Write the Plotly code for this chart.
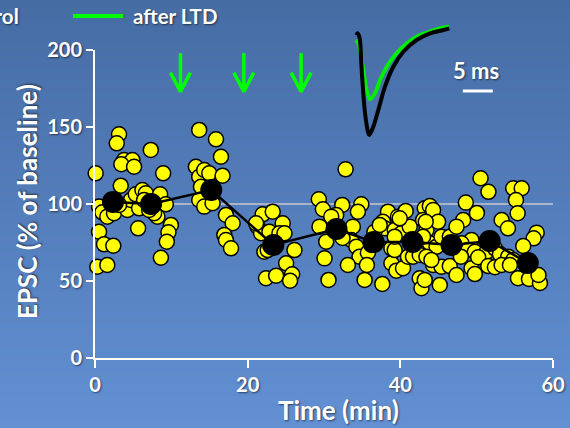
import plotly.graph_objects as go

# ---------------- data ----------------
# individual experiments (time in min, EPSC % of baseline)
time_pts = [3.15, 2.85, 13.65, 7.31, 3.81, 4.90, 3.45, 5.12, 0.09, 8.93, 3.37, 0.53, 0.96, 1.61, 2.49,
            4.24, 4.69, 5.34, 6.21, 6.66, 5.78, 8.53, 9.28, 8.18, 7.75, 5.65, 9.94, 9.62, 9.41, 0.53,
            1.18, 2.40, 8.63, 0.30, 1.61, 13.22, 13.65, 15.85, 16.50, 14.31, 14.97, 16.71, 13.88, 13.65, 14.31,
            15.40, 17.16, 18.03, 16.94, 17.16, 17.82, 6.43, 7.09, 2.10, 3.15,
            21.97, 23.28, 24.59, 21.31, 21.76, 22.85, 24.16, 24.82, 22.19, 22.62, 26.13, 25.04, 22.41, 23.73,
            25.83, 25.56, 21.10, 22.98,
            32.83, 29.32, 29.85, 32.39, 34.89, 34.44, 31.60, 30.95, 29.41, 30.29, 30.07, 33.78, 33.57, 34.23,
            34.66, 35.75, 33.13, 35.62, 30.59, 35.32, 37.64, 38.38, 39.69, 40.70, 37.72, 37.95, 39.26, 40.14,
            41.23, 38.83, 39.48, 40.35, 38.83, 39.26, 41.00, 41.66, 42.54, 42.54, 42.77, 43.20, 42.98, 43.42,
            32.43, 36.60, 36.20, 37.30,
            50.51, 51.54, 54.79, 55.90, 55.15, 55.37, 48.58, 50.03, 39.92, 43.86, 44.29, 44.95, 39.26, 43.86,
            44.74, 42.98, 45.39, 46.48, 48.23, 47.36, 49.33, 48.02, 48.89, 49.76, 51.30, 52.39, 53.05, 54.14,
            54.79, 53.27, 54.10, 57.86, 57.47, 56.10, 44.29, 45.39, 46.48, 47.36, 49.33, 49.76, 47.93, 50.20,
            51.51, 52.39, 53.27, 54.36, 45.17, 55.41, 56.85, 58.29, 58.10, 43.42, 44.07, 43.33, 43.20]
epsc_pts = [145.3, 139.4, 148.1, 135.1, 128.6, 128.6, 125.8, 124.2, 119.9, 119.9, 111.9, 98.3, 94.6, 91.8, 94.0,
            96.1, 102.6, 106.3, 109.1, 107.0, 97.2, 106.3, 99.8, 91.8, 94.0, 84.2, 86.4, 81.6, 75.5, 82.0,
            73.8, 72.9, 65.1, 59.3, 60.4, 124.2, 117.7, 142.0, 130.7, 122.1, 119.9, 118.4, 111.2, 102.6, 98.3,
            100.5, 92.9, 87.5, 79.9, 76.6, 71.2, 102.6, 96.1, 102.6, 99.4,
            93.3, 95.0, 87.5, 85.3, 81.0, 82.0, 81.0, 81.0, 69.0, 70.1, 70.1, 61.5, 51.8, 53.4,
            54.4, 50.2, 87.5, 72.7,
            122.5, 103.1, 96.6, 99.4, 99.8, 95.0, 92.9, 91.8, 85.3, 75.5, 64.7, 85.3, 76.6, 72.3,
            65.8, 68.4, 60.4, 60.4, 50.7, 50.7, 48.1, 95.0, 91.8, 95.5, 88.5, 84.2, 83.1, 81.0,
            85.3, 61.5, 56.7, 58.3, 71.2, 70.1, 65.8, 65.8, 66.9, 51.8, 45.3, 97.2, 89.6, 83.1,
            77.9, 81.8, 73.4, 86.4,
            116.7, 107.9, 110.2, 110.2, 102.6, 94.0, 100.9, 94.2, 90.7, 98.7, 96.1, 88.5, 78.8, 74.5,
            72.3, 78.8, 78.8, 78.8, 89.6, 85.3, 76.6, 74.5, 70.1, 69.0, 69.0, 71.2, 67.5, 65.8,
            63.6, 89.6, 84.2, 81.4, 77.7, 72.7, 60.4, 59.3, 59.7, 53.9, 58.3, 54.5, 65.8, 65.4,
            59.7, 58.9, 60.4, 60.4, 47.4, 51.8, 51.3, 48.7, 53.9, 65.8, 63.6, 88.5, 50.7]

# 5-min averages
mean_time = [2.36, 7.35, 15.23, 23.37, 31.64, 36.5, 41.6, 46.7, 51.7, 56.7]
mean_epsc = [101.3, 100.0, 109.1, 73.4, 83.8, 75.3, 75.3, 73.4, 76.0, 61.7]

# LTD induction times (min)
arrow_times = [11.2, 19.5, 27.0]
arrow_top, arrow_tip = 198, 173

# example EPSC traces (time ms, amplitude a.u.)
trace_ms_ctrl = [0.12, 0.22, 0.55, 0.95, 1.5, 2.05, 2.22, 2.88, 3.72, 4.83, 6.22, 7.88, 10.1, 12.33, 14.55, 15.55]
trace_amp_ctrl = [-7, -5.3, -8.7, -42, -85, -105, -107, -98.7, -82, -58.7, -38.7, -23.7, -12, -5.3, -2, -0.3]
trace_ms_ltd = [0.0, 0.38, 1.22, 1.78, 2.33, 3.17, 4.0, 5.12, 6.5, 8.17, 10.1, 12.33, 14.0, 15.55]
trace_amp_ltd = [-12, -15.3, -42, -62, -71.3, -65.3, -52, -38.7, -27, -17, -8.7, -3.7, -0.3, 1.3]
scale_bar_ms = 5
scale_bar_start = 17.8
scale_bar_amp = -63

x_ticks = [0, 20, 40, 60]
y_ticks = [0, 50, 100, 150, 200]

# ---------------- figure ----------------
FONT = "Lato"
SHADOW = "1px 1px 2px rgba(0,0,0,0.55)"
W, H = 570, 428
ML, MR, MT, MB = 95, 17, 20, 70
PW, PH = W - ML - MR, H - MT - MB


def px_to_paper_x(px):
    return (px - ML) / PW


def py_to_paper_y(py):
    return (H - MB - py) / PH


fig = go.Figure()

# background gradient
top_c = (70, 108, 164)
bot_c = (98, 144, 211)
n_bands = 107
shapes = []
for i in range(n_bands):
    f = i / (n_bands - 1)
    c = tuple(round(top_c[k] + (bot_c[k] - top_c[k]) * f) for k in range(3))
    y0p = i * H / n_bands
    y1p = (i + 1) * H / n_bands + 1
    shapes.append(dict(type="rect", xref="paper", yref="paper",
                       x0=px_to_paper_x(-2), x1=px_to_paper_x(W + 2),
                       y0=py_to_paper_y(y1p), y1=py_to_paper_y(y0p),
                       fillcolor="rgb(%d,%d,%d)" % c, line=dict(width=0), layer="below"))

# baseline line
shapes.append(dict(type="line", xref="x", yref="y", x0=0, x1=60, y0=100, y1=100,
                   line=dict(color="rgba(185,190,200,0.85)", width=2), layer="below"))

# scale bar in inset
shapes.append(dict(type="line", xref="x2", yref="y2", x0=scale_bar_start, x1=scale_bar_start + scale_bar_ms,
                   y0=scale_bar_amp, y1=scale_bar_amp, line=dict(color="white", width=3)))

# legend line
shapes.append(dict(type="line", xref="paper", yref="paper", x0=px_to_paper_x(73), x1=px_to_paper_x(123),
                   y0=py_to_paper_y(16), y1=py_to_paper_y(16), line=dict(color="#00ff00", width=4)))

# yellow individual points
fig.add_trace(go.Scatter(x=time_pts, y=epsc_pts, mode="markers", cliponaxis=False,
                         marker=dict(size=15, color="#ffff00", line=dict(color="black", width=1.5)),
                         showlegend=False, hoverinfo="skip"))

# averages
fig.add_trace(go.Scatter(x=mean_time, y=mean_epsc, mode="lines+markers", cliponaxis=False,
                         line=dict(color="black", width=2.5),
                         marker=dict(size=22, color="black"), showlegend=False))

# arrows
dx, dy = 1.31, 12.3
ax, ay = [], []
for t in arrow_times:
    ax += [t, t, None, t - dx, t, t + dx, None]
    ay += [arrow_top, arrow_tip, None, arrow_tip + dy, arrow_tip, arrow_tip + dy, None]
fig.add_trace(go.Scatter(x=ax, y=ay, mode="lines", cliponaxis=False,
                         line=dict(color="#00ff00", width=3.5), showlegend=False, hoverinfo="skip"))

# inset traces
fig.add_trace(go.Scatter(x=trace_ms_ltd, y=trace_amp_ltd, xaxis="x2", yaxis="y2", mode="lines",
                         line=dict(color="#00ee00", width=4, shape="spline"), showlegend=False))
fig.add_trace(go.Scatter(x=trace_ms_ctrl, y=trace_amp_ctrl, xaxis="x2", yaxis="y2", mode="lines",
                         line=dict(color="black", width=4, shape="spline"), showlegend=False))

axis_font = dict(family=FONT, size=20, color="white", weight="bold", shadow=SHADOW)
title_font = dict(family=FONT, size=26, color="white", weight="bold", shadow=SHADOW)

annotations = [
    dict(text="EPSC (% of baseline)", xref="paper", yref="paper", x=px_to_paper_x(27), y=py_to_paper_y(202),
         textangle=-90, showarrow=False, xanchor="center", yanchor="middle", font=title_font),
    dict(text="Time (min)", xref="paper", yref="paper", x=px_to_paper_x(338), y=py_to_paper_y(410),
         showarrow=False, xanchor="center", yanchor="middle", font=title_font),
    dict(text="after LTD", xref="paper", yref="paper", x=px_to_paper_x(131), y=py_to_paper_y(16),
         showarrow=False, xanchor="left", yanchor="middle",
         font=dict(family=FONT, size=20.5, color="white", weight="bold", shadow=SHADOW)),
    dict(text="control", xref="paper", yref="paper", x=px_to_paper_x(21), y=py_to_paper_y(16),
         showarrow=False, xanchor="right", yanchor="middle",
         font=dict(family=FONT, size=20.5, color="white", weight="bold", shadow=SHADOW)),
    dict(text="5 ms", xref="x2", yref="y2", x=scale_bar_start + scale_bar_ms / 2 - 0.3, y=-42,
         showarrow=False, xanchor="center", yanchor="middle",
         font=dict(family=FONT, size=22, color="white", weight="bold", shadow=SHADOW)),
]

main_top = py_to_paper_y(50)

fig.update_layout(
    width=W, height=H,
    margin=dict(l=ML, r=MR, t=MT, b=MB, pad=0, autoexpand=False),
    paper_bgcolor="rgb(84,126,188)",
    plot_bgcolor="rgba(0,0,0,0)",
    shapes=shapes,
    annotations=annotations,
    showlegend=False,
    xaxis=dict(range=[0, 60], domain=[0, 1], tickvals=x_ticks, ticks="outside", ticklen=8, tickwidth=2,
               tickcolor="white", showline=True, linecolor="white", linewidth=2, showgrid=False,
               zeroline=False, tickfont=axis_font, anchor="y", fixedrange=True, automargin=False),
    yaxis=dict(range=[0, 200], domain=[0, main_top], tickvals=y_ticks, ticks="outside", ticklen=7,
               tickwidth=2, tickcolor="white", showline=True, linecolor="white", linewidth=2,
               showgrid=False, zeroline=False, tickfont=axis_font, anchor="x", fixedrange=True,
               automargin=False),
    xaxis2=dict(range=[-1, 24], domain=[px_to_paper_x(350), px_to_paper_x(500)], anchor="y2",
                visible=False, fixedrange=True),
    yaxis2=dict(range=[-112, 8], domain=[py_to_paper_y(140), 1.0], anchor="x2",
                visible=False, fixedrange=True),
)

fig.write_html("out.html")
